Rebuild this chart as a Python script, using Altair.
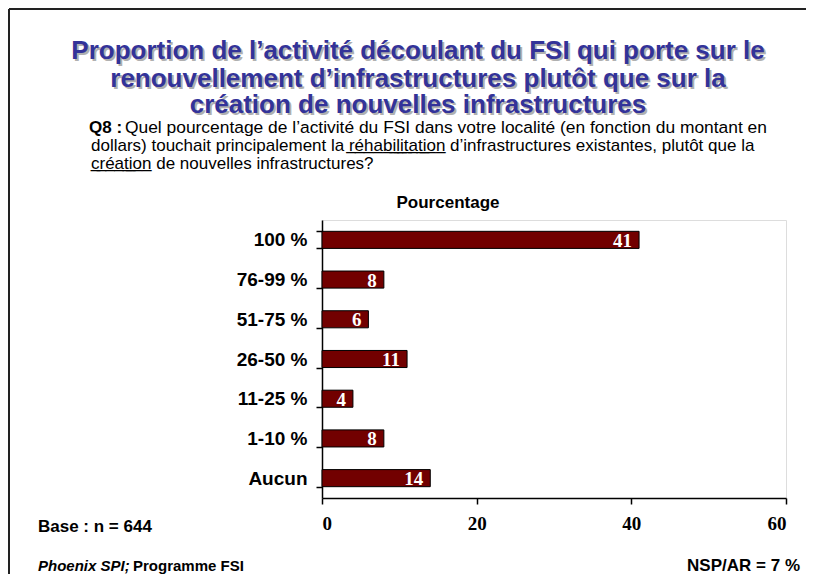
import altair as alt
import pandas as pd

categories = ["100 %", "76-99 %", "51-75 %", "26-50 %", "11-25 %", "1-10 %", "Aucun"]
values = [41, 8, 6, 11, 4, 8, 14]
x_ticks = [0, 20, 40, 60]

title_lines = [
    "Proportion de l\u2019activité découlant du FSI qui porte sur le",
    "renouvellement d\u2019infrastructures plutôt que sur la",
    "création de nouvelles infrastructures",
]


def ul(s):
    return "".join(c + "\u0332" for c in s)


q_bold = "Q8 :"
q_line1 = "Quel pourcentage de l\u2019activité du FSI dans votre localité (en fonction du montant en"
q_line2 = "dollars) touchait principalement la " + ul("réhabilitation") + " d\u2019infrastructures existantes, plutôt que la"
q_line3 = ul("création") + " de nouvelles infrastructures?"

axis_title = "Pourcentage"
base_text = "Base : n = 644"
src_italic = "Phoenix SPI;"
src_rest = "Programme FSI"
nsp_text = "NSP/AR = 7 %"

df = pd.DataFrame({"cat": categories, "val": values})

SANS = "Liberation Sans"
SERIF = "Liberation Serif"

y_enc = alt.Y(
    "cat:N",
    sort=categories,
    scale=alt.Scale(paddingInner=0.57, paddingOuter=0.285),
    axis=alt.Axis(
        title=None,
        labelFont=SANS,
        labelFontWeight="bold",
        labelFontSize=19,
        labelColor="black",
        labelPadding=9,
        tickBand="extent",
        tickSize=6,
        tickColor="black",
        tickWidth=1.5,
        domainColor="black",
        domainWidth=1.5,
    ),
)
x_enc = alt.X(
    "val:Q",
    scale=alt.Scale(domain=[0, 60]),
    axis=alt.Axis(
        title=None,
        values=x_ticks,
        grid=False,
        labelFont=SERIF,
        labelFontWeight="bold",
        labelFontSize=19,
        labelColor="black",
        labelPadding=10,
        tickSize=6,
        tickColor="black",
        tickWidth=1.5,
        domainColor="black",
        domainWidth=1.5,
    ),
)

bars = alt.Chart(df).mark_bar(color="#720000", stroke="black", strokeWidth=1).encode(x=x_enc, y=y_enc)
labels = alt.Chart(df).mark_text(
    align="right", baseline="middle", dx=-7, dy=1, color="white",
    font=SERIF, fontWeight="bold", fontSize=19,
).encode(x="val:Q", y=alt.Y("cat:N", sort=categories), text="val:Q")


def txt(text, x, y, align="left", size=15, weight="normal", style="normal", color="black", font=SANS):
    return alt.Chart(pd.DataFrame({"t": [text]})).mark_text(
        align=align, baseline="alphabetic", fontSize=size, fontWeight=weight,
        fontStyle=style, color=color, font=font,
    ).encode(x=alt.value(x), y=alt.value(y), text="t:N")


layers = [bars, labels]

# title with shadow
title_y = [-161, -133, -107]
for line, yy in zip(title_lines, title_y):
    layers.append(txt(line, 98, yy + 2, align="center", size=26, weight="bold", color="#b0b0b0"))
for line, yy in zip(title_lines, title_y):
    layers.append(txt(line, 96, yy, align="center", size=26, weight="bold", color="#333399"))

layers += [
    txt(q_bold, -233, -87, size=17, weight="bold"),
    txt(q_line1, -197, -87, size=17.4),
    txt(q_line2, -231, -69, size=17),
    txt(q_line3, -231, -51, size=17),
    txt(axis_title, 126, -12, align="center", size=17, weight="bold"),
    txt(base_text, -284, 312, size=17, weight="bold"),
    txt(src_italic, -284, 351, size=15, weight="bold", style="italic"),
    txt(src_rest, -189, 351, size=15, weight="bold"),
    txt(nsp_text, 478, 351, align="right", size=17, weight="bold"),
]

frame_top = alt.Chart(pd.DataFrame({"a": [0]})).mark_rule(color="#222222", strokeWidth=2).encode(
    x=alt.value(-313), x2=alt.value(490), y=alt.value(-211)
)
frame_left = alt.Chart(pd.DataFrame({"a": [0]})).mark_rule(color="#222222", strokeWidth=2).encode(
    x=alt.value(-313), y=alt.value(-211), y2=alt.value(360)
)
layers += [frame_top, frame_left]

chart = alt.layer(*layers).properties(
    width=464,
    height=278,
    padding={"left": 314, "top": 212, "right": 20, "bottom": 76},
    autosize=alt.AutoSizeParams(type="none"),
).configure_view(stroke=None).configure(background="white")

chart.save("out.html", embed_options={"renderer": "svg", "actions": False})
